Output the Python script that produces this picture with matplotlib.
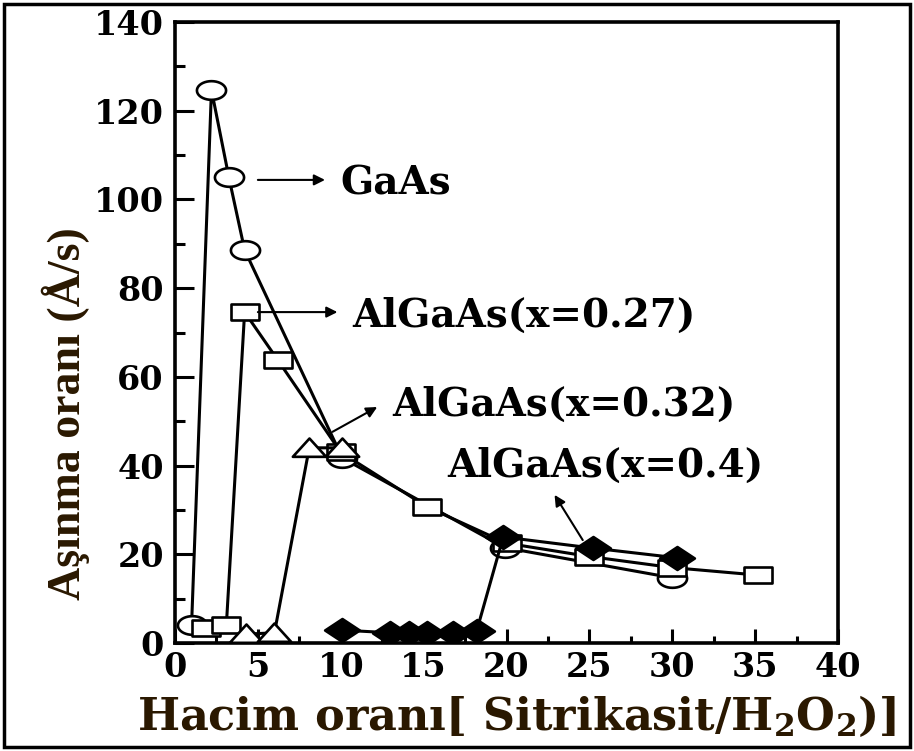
# etch rate vs volume ratio (citric acid / H2O2)
# --------------------------------------------------------------------------------

import numpy as np
import matplotlib
matplotlib.use('Agg')
import matplotlib.pyplot as plt
import matplotlib.patches as patches
from matplotlib.path import Path


# GaAs (open circles)
gaas_x = [1.0, 2.2, 3.25, 4.2, 10.1, 19.9, 30.0]
gaas_y = [4.1, 124.7, 105.0, 88.6, 41.7, 21.5, 14.7]

# AlGaAs x=0.27 (open squares)
al27_x = [1.9, 3.1, 4.2, 6.2, 10.0, 15.2, 20.0, 25.0, 30.0, 35.2]
al27_y = [3.4, 4.1, 74.6, 63.8, 43.0, 30.7, 22.5, 19.5, 17.0, 15.3]

# AlGaAs x=0.32 (open triangles)
al32_x = [4.3, 6.0, 8.1, 10.1]
al32_y = [2.0, 2.3, 44.0, 44.0]

# AlGaAs x=0.4 (filled diamonds)
al40_x = [10.1, 13.0, 14.1, 15.2, 16.8, 18.2, 19.8, 25.2, 30.3]
al40_y = [2.9, 2.3, 2.3, 2.3, 2.3, 2.7, 23.9, 21.4, 19.2]

labels = ['GaAs', 'AlGaAs(x=0.27)', 'AlGaAs(x=0.32)', 'AlGaAs(x=0.4)']
# text position, arrow tail, arrow head (data coords)
label_xy = [(9.95, 103.7), (10.7, 73.7), (13.1, 53.6), (16.4, 39.9)]
arrow_from = [(5.0, 104.4), (5.0, 74.6), (9.5, 47.6), (24.6, 23.2)]
arrow_to = [(9.05, 104.4), (9.8, 74.6), (12.2, 53.2), (22.9, 33.4)]

xticks = [0, 5, 10, 15, 20, 25, 30, 35, 40]
yticks = [0, 20, 40, 60, 80, 100, 120, 140]

LABEL_COLOR = '#2a1800'


def squashed(kind):
    # the scanned figure is stretched sideways, so markers are flat
    if kind == 'ellipse':
        t = np.linspace(0, 2 * np.pi, 41)
        verts = np.column_stack([np.cos(t), 0.64 * np.sin(t)])
        return Path(verts, closed=True)
    if kind == 'rect':
        verts = [(-1, -0.6), (1, -0.6), (1, 0.6), (-1, 0.6), (-1, -0.6)]
    elif kind == 'tri':
        verts = [(-1, -0.5), (1, -0.5), (0, 0.6), (-1, -0.5)]
    else:
        verts = [(-1, 0), (0, -0.66), (1, 0), (0, 0.66), (-1, 0)]
    return Path(verts, closed=True)


def main():
    plt.rcParams['mathtext.fontset'] = 'dejavuserif'

    fig = plt.figure(figsize=(9.14, 7.51), dpi=100)
    ax = fig.add_axes([175 / 914, 1 - 643 / 751, (838 - 175) / 914, (643 - 22) / 751])

    lw = 2.2
    mew = 1.9
    ax.plot(gaas_x, gaas_y, color='black', lw=lw, marker=squashed('ellipse'),
            ms=21, mfc='white', mec='black', mew=mew, zorder=3)
    ax.plot(al27_x, al27_y, color='black', lw=lw, marker=squashed('rect'),
            ms=19.5, mfc='white', mec='black', mew=mew, zorder=4)
    ax.plot(al32_x, al32_y, color='black', lw=lw, marker=squashed('tri'),
            ms=24, mfc='white', mec='black', mew=mew, zorder=5)
    ax.plot(al40_x, al40_y, color='black', lw=lw, marker=squashed('diamond'),
            ms=25, mfc='black', mec='black', mew=mew, zorder=6)

    for lab, xy, a0, a1 in zip(labels, label_xy, arrow_from, arrow_to):
        ax.annotate('', xy=a1, xytext=a0,
                    arrowprops=dict(arrowstyle='-|>', lw=1.5, color='black',
                                    mutation_scale=16, shrinkA=0, shrinkB=0),
                    zorder=7)
        ax.text(xy[0], xy[1], lab, family='DejaVu Serif', weight='bold',
                fontsize=28, ha='left', va='center', zorder=8)

    ax.set_xlim(0, 40)
    ax.set_ylim(0, 140)
    ax.set_xticks(xticks)
    ax.set_yticks(yticks)
    ax.set_xticks(np.arange(2.5, 40, 5), minor=True)
    ax.set_yticks(np.arange(10, 140, 20), minor=True)
    ax.tick_params(which='both', direction='in', width=2.2)
    ax.tick_params(which='major', axis='y', length=14)
    ax.tick_params(which='minor', axis='y', length=7)
    ax.tick_params(which='major', axis='x', length=10)
    ax.tick_params(which='minor', axis='x', length=5)
    ax.tick_params(axis='x', pad=6)
    ax.tick_params(axis='y', pad=8)
    for lbl in ax.get_xticklabels() + ax.get_yticklabels():
        lbl.set_family('DejaVu Serif')
        lbl.set_weight('bold')
        lbl.set_fontsize(24)
    for sp in ax.spines.values():
        sp.set_linewidth(2.6)

    ax.set_ylabel('Aşınma oranı (Å/s)', family=['Liberation Serif', 'DejaVu Serif'],
                  weight='bold', fontsize=33, color=LABEL_COLOR, va='center')
    ax.yaxis.set_label_coords(-0.165, 0.37)
    ax.set_xlabel(r'Hacim oranı[ Sitrikasit/H$_\mathbf{2}$O$_\mathbf{2}$)]', family=['DejaVu Serif'],
                  weight='bold', fontsize=32, color=LABEL_COLOR, va='center')
    ax.xaxis.set_label_coords(0.515, -0.118)

    # frame round the whole picture
    fig.patches.append(patches.Rectangle((0.004, 0.005), 0.992, 0.99, transform=fig.transFigure,
                                         fill=False, lw=2.5, edgecolor='black'))

    fig.savefig('out.png', dpi=100)


if __name__ == '__main__':
    main()
